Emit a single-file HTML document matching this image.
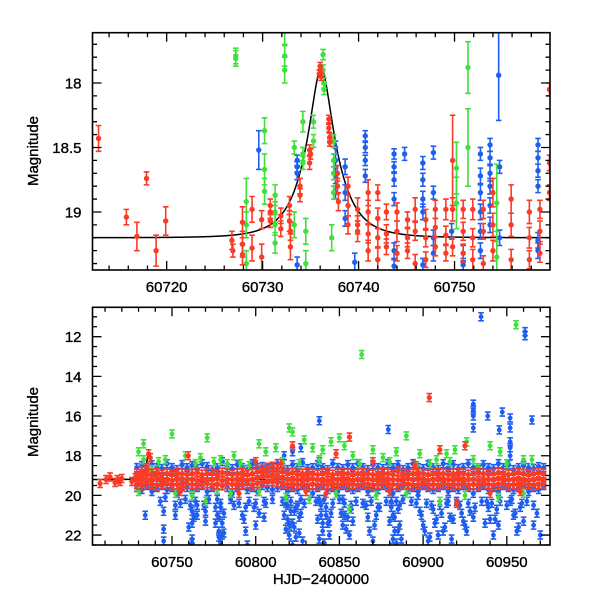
<!DOCTYPE html>
<html><head><meta charset="utf-8"><style>
html,body{margin:0;padding:0;background:#fff;}
svg{display:block;}
text{font-family:"Liberation Sans",sans-serif;font-size:15px;fill:#000;stroke:#000;stroke-width:0.35px;}
</style></head><body>
<svg id="chart" width="600" height="600" viewBox="0 0 600 600" xmlns="http://www.w3.org/2000/svg">
<defs>
<clipPath id="clipTop"><rect x="92.5" y="32.7" width="457.5" height="237.3"/></clipPath>
<clipPath id="clipBot"><rect x="92.5" y="307.3" width="457.5" height="237.7"/></clipPath>
</defs>
<g id="top"></g>
<g id="bot"></g>
<text transform="translate(38,151) rotate(-90)" text-anchor="middle">Magnitude</text>
<text transform="translate(38,422) rotate(-90)" text-anchor="middle">Magnitude</text>
<text x="321" y="584" text-anchor="middle">HJD−2400000</text>
</svg>
<script>
// ---------- model (fit) parameters ----------
const modelBase = 19.2, modelT0 = 60736.1, modelU0 = 0.31, modelTE = 3.2;

// ---------- TOP PANEL DATA ----------
const topRedT = [60712.9,60715.8,60716.9,60717.9,60718.9,60719.9,60726.8,60726.9,60727.9,60727.9,60727.9,60728.9,60728.9,60729.9,60729.9,60730.8,60730.8,60730.8,60731.9,60731.9,60732.8,60732.8,60732.9,60732.9,60733.9,60733.9,60734.9,60734.9,60735.0,60735.9,60736.0,60736.1,60736.0,60736.9,60736.9,60737.0,60737.0,60737.8,60737.8,60737.9,60738.9,60738.9,60738.9,60739.9,60739.9,60739.9,60741,60741,60741,60741,60742,60742,60742,60742,60742.9,60742.9,60742.9,60744,60744,60744,60745.1,60745.1,60745.1,60745.9,60745.9,60745.9,60747,60747,60747,60748,60748,60748,60749.1,60749.1,60749.1,60749.8,60749.8,60749.8,60750.9,60750.9,60750.9,60751.9,60751.9,60751.9,60753,60753,60753,60754,60754,60754,60755.9,60755.9,60755.9,60757.8,60757.8,60757.8,60758.9,60758.9,60758.9,60759.9,60759.9,60759.9];
const topRedM = [18.43,19.04,19.19,18.74,19.3,19.07,19.22,19.3,19.08,19.25,19.33,18.98,19.28,19.06,19.35,18.95,19.0,19.07,19.03,19.13,18.95,19.07,19.15,19.27,18.8,18.87,18.62,18.52,18.55,17.93,17.9,17.95,17.87,18.28,18.35,18.42,18.46,18.7,18.8,18.92,18.8,18.95,19.1,18.98,19.1,19.15,18.85,19.0,19.17,19.3,18.85,19.05,19.2,19.37,19.0,19.17,19.27,19.0,19.15,19.32,19.06,19.2,19.3,18.98,19.15,19.4,19.06,19.2,19.37,18.98,19.12,19.27,18.98,19.18,19.32,18.6,18.98,19.27,18.98,19.15,19.32,18.98,19.2,19.37,18.98,19.15,19.4,18.85,19.1,19.3,18.9,19.1,19.37,19.0,19.2,19.37,18.98,19.15,19.32,18.05,18.62,18.85];
const topRedE = [0.1,0.06,0.11,0.05,0.12,0.11,0.07,0.05,0.12,0.1,0.08,0.1,0.1,0.07,0.1,0.05,0.05,0.05,0.06,0.06,0.07,0.08,0.07,0.1,0.06,0.05,0.05,0.04,0.04,0.03,0.03,0.03,0.03,0.03,0.03,0.03,0.03,0.06,0.06,0.07,0.07,0.08,0.07,0.09,0.07,0.08,0.1,0.09,0.07,0.08,0.06,0.08,0.07,0.09,0.06,0.07,0.06,0.07,0.08,0.06,0.06,0.07,0.06,0.09,0.07,0.07,0.08,0.07,0.06,0.07,0.07,0.07,0.08,0.07,0.06,0.35,0.09,0.07,0.07,0.07,0.07,0.08,0.07,0.08,0.07,0.06,0.06,0.11,0.09,0.08,0.11,0.09,0.08,0.09,0.08,0.07,0.07,0.08,0.07,0.05,0.06,0.06];

const topBlueT = [60729.6,60733.6,60733.6,60733.6,60733.6,60737.6,60737.6,60737.6,60737.6,60738.6,60738.6,60738.6,60739.6,60740.7,60740.7,60740.7,60740.7,60743.7,60743.7,60743.7,60743.7,60743.7,60743.7,60744.8,60746.7,60746.7,60746.7,60746.7,60746.7,60747.8,60747.8,60747.8,60747.8,60749.7,60750.9,60750.9,60752.7,60752.7,60752.7,60752.7,60752.7,60752.7,60753.7,60753.7,60753.7,60753.7,60753.7,60753.7,60754.6,60754.7,60754.7,60758.7,60758.7,60758.7,60758.7,60758.7,60758.7];
const topBlueM = [18.52,18.6,18.65,18.7,19.41,18.5,18.6,18.72,18.85,18.65,18.85,19.05,19.39,18.41,18.5,18.6,18.72,18.55,18.65,18.75,18.9,19.3,19.42,18.55,18.62,18.75,18.9,19.0,19.41,18.54,18.85,19.2,19.32,19.15,19.32,19.41,18.55,18.72,18.85,19.0,19.15,19.3,18.48,18.58,18.7,18.8,18.95,19.1,17.94,18.65,19.2,18.48,18.58,18.68,18.8,19.22,19.3];
const topBlueE = [0.15,0.04,0.04,0.05,0.06,0.05,0.05,0.06,0.05,0.06,0.06,0.06,0.07,0.04,0.04,0.04,0.05,0.04,0.04,0.05,0.05,0.06,0.05,0.05,0.05,0.05,0.06,0.06,0.05,0.05,0.05,0.06,0.06,0.06,0.06,0.05,0.05,0.06,0.06,0.06,0.06,0.06,0.05,0.05,0.06,0.06,0.06,0.06,0.35,0.05,0.06,0.05,0.05,0.05,0.05,0.06,0.06];

const topGreenT = [60727.2,60727.2,60728.3,60728.3,60728.3,60730.2,60730.2,60730.2,60731.3,60731.3,60731.3,60731.3,60732.3,60732.3,60732.3,60733.3,60733.3,60734.2,60734.2,60734.2,60734.5,60734.5,60735.3,60735.3,60736.3,60736.3,60736.4,60736.4,60737.4,60737.4,60737.4,60737.4,60737.2,60750.2,60750.2,60751.4,60751.4,60754.4,60754.4];
const topGreenM = [17.79,17.81,18.92,19.1,19.4,18.37,18.67,18.84,18.87,19.0,19.1,19.24,17.6,17.79,17.9,18.5,19.1,18.3,18.55,18.62,19.15,19.4,18.3,18.45,17.78,17.9,18.0,18.05,18.45,18.6,18.7,18.85,19.2,18.66,18.93,17.88,18.5,18.93,19.35];
const topGreenE = [0.06,0.06,0.18,0.1,0.1,0.1,0.12,0.1,0.08,0.08,0.08,0.08,0.1,0.08,0.1,0.05,0.1,0.08,0.05,0.05,0.1,0.1,0.05,0.05,0.04,0.04,0.04,0.04,0.05,0.05,0.05,0.05,0.1,0.2,0.2,0.2,0.3,0.3,0.2];

const topXTicks = [60720,60730,60740,60750];
const topYTicks = ["18","18.5","19"];

// ---------- BOTTOM PANEL DATA ----------
const bandT = [60729,60732,60735,60738,60741,60744,60747,60750,60753,60756,60759,60762,60765,60768,60771,60774,60777,60780,60783,60786,60789,60792,60795,60798,60801,60804,60807,60810,60813,60816,60819,60822,60825,60828,60831,60834,60837,60840,60843,60846,60849,60852,60855,60858,60861,60864,60867,60870,60873,60876,60879,60882,60885,60888,60891,60894,60897,60900,60903,60906,60909,60912,60915,60918,60921,60924,60927,60930,60933,60936,60939,60942,60945,60948,60951,60954,60957,60960,60963,60966,60969,60972];
const blueHi = [18.6,18.5,18.7,18.45,18.6,18.65,18.4,18.6,18.7,18.45,18.6,18.5,18.65,18.4,18.55,18.7,18.6,18.3,18.6,18.65,18.45,18.6,18.7,18.4,18.6,18.55,18.65,18.6,18.4,18.6,18.7,18.45,18.6,18.35,18.65,18.6,18.45,18.6,18.7,18.4,18.6,18.65,18.45,18.6,18.4,18.6,18.7,18.45,18.6,18.65,18.4,18.6,18.45,18.7,18.6,18.4,18.6,18.65,18.45,18.6,18.7,18.4,18.6,18.45,18.65,18.6,18.4,18.6,18.7,18.45,18.6,18.65,18.4,18.6,18.45,18.7,18.6,18.5,18.6,18.65,18.55,18.6];
const blueLo = [19.6,19.7,19.5,19.8,19.6,19.5,19.7,19.6,19.9,19.5,19.6,19.7,19.6,19.5,19.8,19.6,19.7,19.5,19.6,19.9,19.6,19.5,19.7,19.6,19.8,19.5,19.6,19.7,19.6,19.5,19.8,19.6,19.7,19.5,19.6,19.9,19.6,19.5,19.7,19.6,19.8,19.5,19.6,19.7,19.6,19.5,19.8,19.6,19.7,19.5,19.6,19.9,19.6,19.5,19.7,19.6,19.8,19.5,19.6,19.7,19.6,19.5,19.8,19.6,19.7,19.5,19.6,19.9,19.6,19.5,19.7,19.6,19.8,19.5,19.6,19.7,19.6,19.5,19.8,19.6,19.7,19.5];
const red1 = [18.9,18.8,18.95,18.9,18.85,18.95,18.9,18.95,18.85,18.9,18.95,18.9,18.85,18.95,18.9,18.9,18.95,18.85,18.9,18.95,18.9,18.85,18.95,18.9,18.8,18.7,18.6,18.55,18.65,18.8,18.9,18.85,18.95,18.9,18.85,18.9,18.95,18.9,18.85,18.95,18.9,18.85,18.9,18.95,18.9,18.85,18.9,18.95,18.9,18.85,18.9,18.95,18.8,18.9,18.95,18.9,18.85,18.9,18.95,18.9,18.85,18.9,18.95,18.9,18.85,18.9,18.95,18.9,18.85,18.9,18.95,18.9,18.85,18.9,18.95,18.9,18.85,18.9,18.95,18.9,18.85,18.9];
const red2 = [19.2,19.15,19.2,19.25,19.2,19.15,19.2,19.25,19.2,19.15,19.2,19.2,19.25,19.15,19.2,19.2,19.15,19.25,19.2,19.2,19.15,19.2,19.25,19.2,19.1,19.05,19.0,18.95,19.0,19.1,19.2,19.15,19.2,19.25,19.2,19.15,19.2,19.2,19.25,19.15,19.2,19.2,19.15,19.25,19.2,19.2,19.15,19.2,19.25,19.2,19.15,19.2,19.2,19.25,19.15,19.2,19.2,19.15,19.25,19.2,19.2,19.15,19.2,19.25,19.2,19.15,19.2,19.2,19.25,19.15,19.2,19.2,19.15,19.25,19.2,19.2,19.15,19.2,19.25,19.2,19.15,19.2];
const red3 = [19.45,19.5,19.4,19.45,19.5,19.45,19.4,19.5,19.45,19.55,19.4,19.45,19.5,19.45,19.4,19.5,19.45,19.5,19.4,19.45,19.5,19.45,19.4,19.5,19.4,19.35,19.3,19.3,19.35,19.4,19.45,19.5,19.45,19.4,19.5,19.45,19.5,19.4,19.45,19.5,19.45,19.4,19.5,19.45,19.5,19.4,19.45,19.5,19.45,19.4,19.5,19.45,19.5,19.4,19.45,19.5,19.45,19.4,19.5,19.45,19.5,19.4,19.45,19.5,19.45,19.4,19.5,19.45,19.5,19.4,19.45,19.5,19.45,19.4,19.5,19.45,19.5,19.4,19.45,19.5,19.45,19.4];

const redExtraT = [60707,60710.6,60713,60716,60717.3,60719,60720,60726,60728,60730,60733,60735,60736,60737,60759.7,60800,60822,60848,60856,60903.7,60910,60925,60755,60790,60815,60830,60842,60870,60880,60895,60920,60940,60958];
const redExtraM = [19.4,19.2,19.07,19.35,19.2,19.3,19.15,19.3,19.1,19.2,18.9,18.6,17.9,18.1,18.0,18.3,17.5,17.9,17.06,15.07,17.7,17.5,19.8,19.9,18.4,19.8,19.9,18.3,19.8,18.5,20.4,19.9,19.8];

const blueExtraT = [60934.6,60960.9,60960.9,60838,60879.2,60930,60930,60930,60930,60938.6,60947.3,60952,60952,60952,60952,60952,60965,60945.5,60817,60822,60827,60838,60734,60745,60745,60745,60752,60752,60762,60762,60762,60762,60765,60765,60770,60770,60777,60777,60778,60779,60779,60780,60780,60787,60792,60793,60795,60800,60800,60805,60805,60818,60819,60820,60821,60822,60823,60824,60826,60827,60828,60838,60839,60840,60841,60842,60843,60844,60845,60852,60853,60854,60856,60857,60858,60866,60868,60870,60872,60874,60881,60882,60883,60884,60885,60886,60887,60897,60899,60901,60903,60905,60907,60909,60911,60913,60915,60917,60918,60922,60924,60926,60928,60930,60938,60940,60942,60944,60945,60952,60954,60956,60958,60960,60966,60966];
const blueExtraM = [11.0,11.75,11.95,16.24,16.68,15.4,15.7,16.0,16.6,16.0,15.8,16.1,16.6,17.3,17.6,18.0,16.2,16.7,18.0,17.8,17.6,18.3,21.0,20.8,21.7,22.3,20.5,21.0,20.8,21.4,22.2,22.4,20.5,21.0,20.8,21.3,20.2,21.0,21.8,22.4,20.6,21.4,22.0,20.5,21.0,21.2,22.5,20.4,21.5,20.3,21.1,20.4,21.2,22.0,20.8,22.5,21.6,20.6,21.9,20.9,22.3,20.2,21.0,21.8,22.4,20.6,21.4,22.0,20.9,20.2,21.0,21.7,22.0,20.5,21.3,20.5,21.8,22.3,21.0,20.6,20.3,21.0,21.8,22.4,20.7,21.5,22.2,20.0,21.0,21.8,22.3,20.5,21.4,22.0,20.9,21.6,20.3,22.2,21.2,20.5,21.3,21.8,20.8,21.1,20.3,21.2,22.0,20.7,21.5,20.3,21.0,21.8,20.6,21.3,21.5,20.5];
const blueFaintT = [60743,60746,60755,60758,60760,60761,60763,60764,60769,60772,60776,60776,60778,60778,60779,60781,60781,60785,60790,60794,60794,60796,60799,60802,60806,60810,60816,60817,60818,60819,60820,60821,60822,60823,60824,60825,60826,60827,60829,60836,60837,60838,60839,60840,60841,60842,60844,60846,60850,60851,60852,60853,60855,60857,60860,60864,60867,60869,60871,60873,60878,60880,60881,60882,60883,60884,60885,60886,60888,60893,60896,60898,60900,60902,60904,60906,60908,60910,60912,60914,60916,60920,60923,60925,60927,60931,60935,60937,60939,60941,60943,60946,60950,60953,60955,60957,60959,60962,60968,60970];
const blueFaintM = [20.3,20.1,20.4,20.2,21.6,20.5,21.1,20.3,20.5,20.2,20.6,21.4,21.1,22.1,20.4,20.9,21.9,20.2,20.4,20.6,21.8,20.3,20.6,20.9,20.4,20.2,20.3,21.0,21.7,20.5,21.5,20.3,21.4,20.8,22.1,20.5,21.1,20.2,20.4,20.3,21.2,22.2,20.5,21.4,20.2,21.0,21.3,20.4,20.2,20.9,21.5,20.4,21.1,20.7,20.3,20.4,21.1,20.3,21.5,20.6,20.3,21.3,20.6,22.2,21.1,20.3,21.8,20.5,20.2,20.3,20.4,20.8,21.5,20.4,22.1,20.7,21.2,20.5,21.8,20.4,21.1,20.3,20.9,21.5,20.4,20.6,20.3,21.4,20.6,20.4,21.2,20.3,20.5,20.2,20.9,21.6,20.4,20.3,20.9,22.0];

const greenExtraT = [60730,60733,60733,60738,60746,60750,60758,60767,60771,60775,60783,60787,60791,60802,60806,60812,60820,60822,60829,60834,60840,60845,60850,60853,60858,60863.3,60870,60876,60884,60890,60898,60904,60908,60914,60919,60926,60933,60940,60946,60955.5,60960,60965,60730,60752,60762,60770,60777,60785,60802,60818,60832,60848,60856,60872,60890,60910,60925,60945,60960,60742,60764,60779,60796,60816,60826,60838,60862,60880,60896,60916,60930,60950];
const greenExtraM = [17.8,18.2,17.4,18.7,18.2,16.9,18.0,18.1,17.1,18.3,18.4,18.0,18.4,17.4,17.8,17.6,16.6,16.8,17.2,17.6,17.7,17.3,17.1,17.5,18.0,12.9,17.7,18.1,17.8,17.0,17.9,18.4,18.2,17.9,17.7,17.3,18.6,17.5,17.8,11.4,18.2,18.2,19.8,19.9,20.0,20.3,19.7,19.9,19.8,20.1,20.2,19.9,20.7,20.0,19.9,20.3,20.0,20.1,19.9,18.3,18.4,18.2,18.5,18.3,18.4,18.2,18.4,18.3,18.5,18.3,18.2,18.4];

const botXTicks = [60750,60800,60850,60900,60950];
const botYTicks = [12,14,16,18,20,22];

// ---------- colours ----------
const RED = "#fa3b26", BLUE = "#1e5ef2", GREEN = "#40e03c";
const NS = "http://www.w3.org/2000/svg";
function mk(tag, attrs, parent){ const e=document.createElementNS(NS,tag); for(const k in attrs) e.setAttribute(k,attrs[k]); parent.appendChild(e); return e; }

const T = {x0:92.5,x1:550,y0:32.7,y1:270, t0:60712.27, t1:60759.95, m0:17.61, m1:19.45};
const B = {x0:92.5,x1:550,y0:307.3,y1:545, t0:60702.5, t1:60975.8, m0:10.52, m1:22.5};
function sx(P,t){ return P.x0 + (t-P.t0)/(P.t1-P.t0)*(P.x1-P.x0); }
function sy(P,m){ return P.y0 + (m-P.m0)/(P.m1-P.m0)*(P.y1-P.y0); }
function modelMag(t){ const d=(t-modelT0)/modelTE; const u=Math.sqrt(modelU0*modelU0+d*d); const A=(u*u+2)/(u*Math.sqrt(u*u+4)); return modelBase-2.5*Math.log10(A); }

function drawPoints(P, g, ts, ms, es, color, r, name){
  const n=Math.min(ts.length, ms.length);
  for(let i=0;i<n;i++){
    const x=sx(P,ts[i]), y=sy(P,ms[i]); const e=es? (Array.isArray(es)?es[i]:es) : 0;
    if(e>0){
      const ya=sy(P,ms[i]-e), yb=sy(P,ms[i]+e);
      const bar=mk('path',{d:`M${x},${ya}V${yb}M${x-2.8},${ya}H${x+2.8}M${x-2.8},${yb}H${x+2.8}`,stroke:color,'stroke-width':1.6,fill:'none'},g);
      
      
    }
    const c=mk('circle',{cx:x,cy:y,r:r,fill:color},g);
    
    
  }
}

function drawAxes(P, g, xTicks, xMinorStep, yMajor, yMinorStep, yLabels, xName){
  const fr=mk('rect',{x:P.x0,y:P.y0,width:P.x1-P.x0,height:P.y1-P.y0,fill:'none',stroke:'#000','stroke-width':1.6},g);
  
  
  let d='';
  const tStart=Math.ceil(P.t0/xMinorStep)*xMinorStep;
  const step=xTicks[1]-xTicks[0];
  for(let t=tStart;t<=P.t1+1e-6;t+=xMinorStep){
    const x=sx(P,t); const major=Math.abs(t/step - Math.round(t/step))<1e-6;
    const L=major?9:4.5;
    d+=`M${x},${P.y1}v${-L}M${x},${P.y0}v${L}`;
  }
  const mStart=Math.ceil(P.m0/yMinorStep-1e-6)*yMinorStep;
  for(let m=mStart;m<=P.m1+1e-6;m+=yMinorStep){
    const y=sy(P,m); const q=m/yMajor; const major=Math.abs(q-Math.round(q))<1e-4;
    const L=major?9:4.5;
    d+=`M${P.x0},${y}h${L}M${P.x1},${y}h${-L}`;
  }
  const tk=mk('path',{d:d,stroke:'#000','stroke-width':1.3,fill:'none'},g);
  
  
  xTicks.forEach(t=>{
    const tx=mk('text',{x:sx(P,t),y:P.y1+22,'text-anchor':'middle'},g); tx.textContent=String(t);
    
    
  });
  yLabels.forEach(lbl=>{
    const ty=mk('text',{x:P.x0-11,y:sy(P,parseFloat(lbl))+5.5,'text-anchor':'end'},g); ty.textContent=String(lbl);
    
    
  });
}

function drawModel(P, g, name){
  let d=''; const N=600;
  for(let i=0;i<=N;i++){ const t=P.t0+(P.t1-P.t0)*i/N; d+=(i?'L':'M')+sx(P,t).toFixed(2)+','+sy(P,modelMag(t)).toFixed(2); }
  const p=mk('path',{d:d,stroke:'#000','stroke-width':1.5,fill:'none'},g);
  
  
}

// TOP
const gt=document.getElementById('top');
const gtd=mk('g',{'clip-path':'url(#clipTop)'},gt);


drawModel(T,gtd,'top-model-curve');
drawPoints(T,gtd,topBlueT,topBlueM,topBlueE,BLUE,2.7,'top-blue');
drawPoints(T,gtd,topGreenT,topGreenM,topGreenE,GREEN,2.7,'top-green');
drawPoints(T,gtd,topRedT,topRedM,topRedE,RED,2.7,'top-red');
drawAxes(T,gt,topXTicks,2,0.5,0.1,topYTicks,'top');

// BOTTOM
const gb=document.getElementById('bot');
const gbd=mk('g',{'clip-path':'url(#clipBot)'},gb);


drawModel(B,gbd,'bottom-model-curve');
drawPoints(B,gbd,blueExtraT,blueExtraM,0.2,BLUE,2.4,'bottom-blue');
drawPoints(B,gbd,blueFaintT,blueFaintM,0.2,BLUE,2.4,'bottom-blue');
drawPoints(B,gbd,bandT,blueHi,0.2,BLUE,2.6,'bottom-blue');
drawPoints(B,gbd,bandT,blueLo,0.2,BLUE,2.6,'bottom-blue');
drawPoints(B,gbd,greenExtraT,greenExtraM,0.2,GREEN,2.4,'bottom-green');
drawPoints(B,gbd,bandT,red1,0.22,RED,2.7,'bottom-red');
drawPoints(B,gbd,bandT,red2,0.22,RED,2.7,'bottom-red');
drawPoints(B,gbd,bandT,red3,0.22,RED,2.7,'bottom-red');
drawPoints(B,gbd,redExtraT,redExtraM,0.2,RED,2.6,'bottom-red');
drawAxes(B,gb,botXTicks,10,2,0.5,botYTicks.map(String),'bottom');
</script>
</body></html>
